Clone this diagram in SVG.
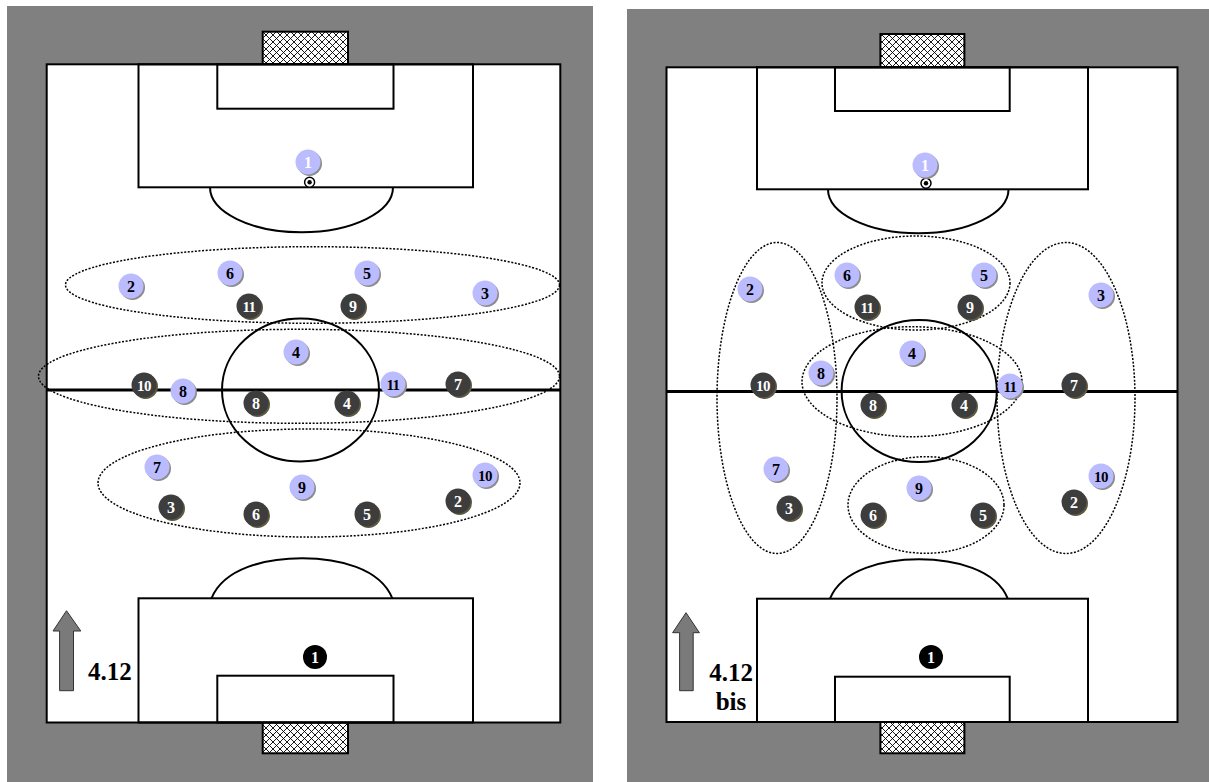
<svg xmlns="http://www.w3.org/2000/svg" width="1209" height="782" viewBox="0 0 1209 782">
<style>
.bg{fill:#808080}
.pitch{fill:#fff;stroke:#000;stroke-width:2}
.ln{fill:none;stroke:#000;stroke-width:2}
.half{stroke:#000;stroke-width:3}
.net{fill:url(#net);stroke:#000;stroke-width:2}
.zone{fill:none;stroke:#000;stroke-width:1.5;stroke-dasharray:2 1.6}
.bs{fill:#8c8c8c}
.b{fill:#bbbbff}
.ds{fill:#5e5a42}
.d{fill:#3d3d3d}
.k{fill:#000}
.num{font-family:"Liberation Serif","Times New Roman",serif;font-weight:bold;font-size:16px;text-anchor:middle}
.two{font-size:15px;letter-spacing:-0.6px}
.tb{fill:#000}
.tw{fill:#fff}
.arrow{fill:#7a7a7a;stroke:#333;stroke-width:1}
.lbl{font-family:"Liberation Serif","Times New Roman",serif;font-weight:bold;font-size:25px;fill:#000}
.ball{fill:#fff;stroke:#000;stroke-width:1.5}
</style>
<defs>
<pattern id="net" width="7" height="7" patternUnits="userSpaceOnUse">
<rect width="7" height="7" fill="#fff"/>
<path d="M0,0 L7,7 M7,0 L0,7" stroke="#000" stroke-width="0.9"/>
</pattern>
</defs>

<!-- LEFT PANEL -->
<g id="left-panel">
<rect class="bg" x="7" y="6" width="586" height="776"/>
<rect class="net" x="262.7" y="31.7" width="85.3" height="32.3"/>
<rect class="net" x="262.7" y="722" width="85.3" height="31.3"/>
<rect class="pitch" x="46.7" y="64.3" width="513.6" height="658.2"/>
<rect class="ln" x="138.5" y="64.3" width="334.5" height="123"/>
<rect class="ln" x="217.3" y="64.3" width="176.2" height="44.4"/>
<path class="ln" d="M210,187.3 A91.5,45 0 0,0 393,187.3"/>
<rect class="ln" x="138.5" y="598.3" width="334.5" height="124.2"/>
<rect class="ln" x="217.3" y="675.7" width="176.2" height="46.8"/>
<path class="ln" d="M211.5,598.3 C224,568 266,558.3 302,558.3 C338,558.3 380,568 392.3,598.3"/>
<line class="half" x1="46.7" y1="390" x2="560.3" y2="390"/>
<ellipse class="ln" cx="300.5" cy="390" rx="78.5" ry="71.5"/>
<g id="L-ball"><circle class="ball" cx="309.6" cy="182.3" r="5"/><circle class="k" cx="309.6" cy="182.3" r="2.2"/></g>
</g>

<g id="left-zones">
<ellipse class="zone" cx="312.5" cy="285" rx="247" ry="38.3"/>
<ellipse class="zone" cx="299" cy="376.3" rx="260.5" ry="47"/>
<ellipse class="zone" cx="309" cy="483" rx="211" ry="54"/>
</g>

<g id="L-b1"><circle class="bs" cx="309.5" cy="163.5" r="12.5"/><circle class="b" cx="308" cy="162" r="12.5"/><text class="num tw" x="308" y="167.5">1</text></g>
<g id="L-b2"><circle class="bs" cx="132.5" cy="287.5" r="12.5"/><circle class="b" cx="131" cy="286" r="12.5"/><text class="num tb" x="131" y="291.5">2</text></g>
<g id="L-b6"><circle class="bs" cx="231.5" cy="274.5" r="12.5"/><circle class="b" cx="230" cy="273" r="12.5"/><text class="num tb" x="230" y="278.5">6</text></g>
<g id="L-b5"><circle class="bs" cx="368.5" cy="274.5" r="12.5"/><circle class="b" cx="367" cy="273" r="12.5"/><text class="num tb" x="367" y="278.5">5</text></g>
<g id="L-b3"><circle class="bs" cx="486.5" cy="294.5" r="12.5"/><circle class="b" cx="485" cy="293" r="12.5"/><text class="num tb" x="485" y="298.5">3</text></g>
<g id="L-b4"><circle class="bs" cx="297.5" cy="353.5" r="12.5"/><circle class="b" cx="296" cy="352" r="12.5"/><text class="num tb" x="296" y="357.5">4</text></g>
<g id="L-b8"><circle class="bs" cx="184.5" cy="392.5" r="12.5"/><circle class="b" cx="183" cy="391" r="12.5"/><text class="num tb" x="183" y="396.5">8</text></g>
<g id="L-b11"><circle class="bs" cx="394.5" cy="385.5" r="12.5"/><circle class="b" cx="393" cy="384" r="12.5"/><text class="num two tb" x="393" y="389.5">11</text></g>
<g id="L-b7"><circle class="bs" cx="158.5" cy="468.5" r="12.5"/><circle class="b" cx="157" cy="467" r="12.5"/><text class="num tb" x="157" y="472.5">7</text></g>
<g id="L-b9"><circle class="bs" cx="303.5" cy="488.5" r="12.5"/><circle class="b" cx="302" cy="487" r="12.5"/><text class="num tb" x="302" y="492.5">9</text></g>
<g id="L-b10"><circle class="bs" cx="486.5" cy="476.5" r="12.5"/><circle class="b" cx="485" cy="475" r="12.5"/><text class="num two tb" x="485" y="480.5">10</text></g>

<g id="L-d11"><circle class="ds" cx="250.5" cy="307.5" r="12.5"/><circle class="d" cx="249" cy="306" r="12.5"/><text class="num two tw" x="249" y="311.5">11</text></g>
<g id="L-d9"><circle class="ds" cx="354.5" cy="307.5" r="12.5"/><circle class="d" cx="353" cy="306" r="12.5"/><text class="num tw" x="353" y="311.5">9</text></g>
<g id="L-d10"><circle class="ds" cx="145.5" cy="386.5" r="12.5"/><circle class="d" cx="144" cy="385" r="12.5"/><text class="num two tw" x="144" y="390.5">10</text></g>
<g id="L-d8"><circle class="ds" cx="257.5" cy="404.5" r="12.5"/><circle class="d" cx="256" cy="403" r="12.5"/><text class="num tw" x="256" y="408.5">8</text></g>
<g id="L-d4"><circle class="ds" cx="348.5" cy="404.5" r="12.5"/><circle class="d" cx="347" cy="403" r="12.5"/><text class="num tw" x="347" y="408.5">4</text></g>
<g id="L-d7"><circle class="ds" cx="459.5" cy="385.5" r="12.5"/><circle class="d" cx="458" cy="384" r="12.5"/><text class="num tw" x="458" y="389.5">7</text></g>
<g id="L-d3"><circle class="ds" cx="172.5" cy="508.5" r="12.5"/><circle class="d" cx="171" cy="507" r="12.5"/><text class="num tw" x="171" y="512.5">3</text></g>
<g id="L-d6"><circle class="ds" cx="257.5" cy="515.5" r="12.5"/><circle class="d" cx="256" cy="514" r="12.5"/><text class="num tw" x="256" y="519.5">6</text></g>
<g id="L-d5"><circle class="ds" cx="368.5" cy="515.5" r="12.5"/><circle class="d" cx="367" cy="514" r="12.5"/><text class="num tw" x="367" y="519.5">5</text></g>
<g id="L-d2"><circle class="ds" cx="459.5" cy="502.5" r="12.5"/><circle class="d" cx="458" cy="501" r="12.5"/><text class="num tw" x="458" y="506.5">2</text></g>
<g id="L-k1"><circle class="k" cx="315" cy="657" r="12"/><text class="num tw" x="315" y="662.5">1</text></g>

<g id="L-label">
<path class="arrow" d="M66.5,610.7 L80.8,631 L73.5,631 L73.5,690.7 L59.6,690.7 L59.6,631 L53,631 Z"/>
<text class="lbl" x="88" y="680">4.12</text>
</g>

<!-- RIGHT PANEL -->
<g id="right-panel">
<rect class="bg" x="627" y="9" width="582" height="773"/>
<rect class="net" x="880.4" y="34" width="84" height="33"/>
<rect class="net" x="880.4" y="722" width="84" height="31.3"/>
<rect class="pitch" x="666.5" y="67.3" width="511" height="654.7"/>
<rect class="ln" x="757" y="67.3" width="331" height="122"/>
<rect class="ln" x="835" y="67.3" width="174.7" height="43.7"/>
<path class="ln" d="M828,189.3 A90.2,44 0 0,0 1008.5,189.3"/>
<rect class="ln" x="757" y="598.7" width="331" height="123.3"/>
<rect class="ln" x="835" y="676.7" width="174.7" height="45.3"/>
<path class="ln" d="M830,598.7 C842,569 884,559.3 919,559.3 C954,559.3 996,569 1007.8,598.7"/>
<line class="half" x1="666.5" y1="391.5" x2="1177.5" y2="391.5"/>
<ellipse class="ln" cx="919.2" cy="391" rx="77.6" ry="71"/>
<g id="R-ball"><circle class="ball" cx="926" cy="183.3" r="5"/><circle class="k" cx="926" cy="183.3" r="2.2"/></g>
</g>

<g id="right-zones">
<ellipse class="zone" cx="777" cy="398" rx="60" ry="155.5"/>
<ellipse class="zone" cx="1066" cy="398" rx="69" ry="155.5"/>
<ellipse class="zone" cx="916" cy="283" rx="94" ry="47"/>
<ellipse class="zone" cx="912" cy="381.7" rx="110" ry="55"/>
<ellipse class="zone" cx="926" cy="505" rx="78" ry="48.3"/>
</g>

<g id="R-b1"><circle class="bs" cx="926.5" cy="166.5" r="12.5"/><circle class="b" cx="925" cy="165" r="12.5"/><text class="num tw" x="925" y="170.5">1</text></g>
<g id="R-b2"><circle class="bs" cx="751.5" cy="290.5" r="12.5"/><circle class="b" cx="750" cy="289" r="12.5"/><text class="num tb" x="750" y="294.5">2</text></g>
<g id="R-b6"><circle class="bs" cx="848.5" cy="276.5" r="12.5"/><circle class="b" cx="847" cy="275" r="12.5"/><text class="num tb" x="847" y="280.5">6</text></g>
<g id="R-b5"><circle class="bs" cx="985.5" cy="276.5" r="12.5"/><circle class="b" cx="984" cy="275" r="12.5"/><text class="num tb" x="984" y="280.5">5</text></g>
<g id="R-b3"><circle class="bs" cx="1102.5" cy="296.5" r="12.5"/><circle class="b" cx="1101" cy="295" r="12.5"/><text class="num tb" x="1101" y="300.5">3</text></g>
<g id="R-b4"><circle class="bs" cx="913.5" cy="354.5" r="12.5"/><circle class="b" cx="912" cy="353" r="12.5"/><text class="num tb" x="912" y="358.5">4</text></g>
<g id="R-b8"><circle class="bs" cx="822.5" cy="374.5" r="12.5"/><circle class="b" cx="821" cy="373" r="12.5"/><text class="num tb" x="821" y="378.5">8</text></g>
<g id="R-b11"><circle class="bs" cx="1011.5" cy="387.5" r="12.5"/><circle class="b" cx="1010" cy="386" r="12.5"/><text class="num two tb" x="1010" y="391.5">11</text></g>
<g id="R-b7"><circle class="bs" cx="777.5" cy="470.5" r="12.5"/><circle class="b" cx="776" cy="469" r="12.5"/><text class="num tb" x="776" y="474.5">7</text></g>
<g id="R-b9"><circle class="bs" cx="920.5" cy="489.5" r="12.5"/><circle class="b" cx="919" cy="488" r="12.5"/><text class="num tb" x="919" y="493.5">9</text></g>
<g id="R-b10"><circle class="bs" cx="1102.5" cy="477.5" r="12.5"/><circle class="b" cx="1101" cy="476" r="12.5"/><text class="num two tb" x="1101" y="481.5">10</text></g>

<g id="R-d11"><circle class="ds" cx="868.5" cy="308.5" r="12.5"/><circle class="d" cx="867" cy="307" r="12.5"/><text class="num two tw" x="867" y="312.5">11</text></g>
<g id="R-d9"><circle class="ds" cx="971.5" cy="308.5" r="12.5"/><circle class="d" cx="970" cy="307" r="12.5"/><text class="num tw" x="970" y="312.5">9</text></g>
<g id="R-d10"><circle class="ds" cx="764.5" cy="386.5" r="12.5"/><circle class="d" cx="763" cy="385" r="12.5"/><text class="num two tw" x="763" y="390.5">10</text></g>
<g id="R-d7"><circle class="ds" cx="1075.5" cy="386.5" r="12.5"/><circle class="d" cx="1074" cy="385" r="12.5"/><text class="num tw" x="1074" y="390.5">7</text></g>
<g id="R-d8"><circle class="ds" cx="874.5" cy="406.5" r="12.5"/><circle class="d" cx="873" cy="405" r="12.5"/><text class="num tw" x="873" y="410.5">8</text></g>
<g id="R-d4"><circle class="ds" cx="965.5" cy="406.5" r="12.5"/><circle class="d" cx="964" cy="405" r="12.5"/><text class="num tw" x="964" y="410.5">4</text></g>
<g id="R-d3"><circle class="ds" cx="790.5" cy="509.5" r="12.5"/><circle class="d" cx="789" cy="508" r="12.5"/><text class="num tw" x="789" y="513.5">3</text></g>
<g id="R-d6"><circle class="ds" cx="874.5" cy="516.5" r="12.5"/><circle class="d" cx="873" cy="515" r="12.5"/><text class="num tw" x="873" y="520.5">6</text></g>
<g id="R-d5"><circle class="ds" cx="984.5" cy="516.5" r="12.5"/><circle class="d" cx="983" cy="515" r="12.5"/><text class="num tw" x="983" y="520.5">5</text></g>
<g id="R-d2"><circle class="ds" cx="1075.5" cy="503.5" r="12.5"/><circle class="d" cx="1074" cy="502" r="12.5"/><text class="num tw" x="1074" y="507.5">2</text></g>
<g id="R-k1"><circle class="k" cx="931" cy="657" r="12"/><text class="num tw" x="931" y="662.5">1</text></g>

<g id="R-label">
<path class="arrow" d="M686,612.7 L699.4,632.7 L693.2,632.7 L693.2,690.7 L679.6,690.7 L679.6,632.7 L672.6,632.7 Z"/>
<text class="lbl" x="731" y="681" text-anchor="middle">4.12</text>
<text class="lbl" x="731" y="710" text-anchor="middle">bis</text>
</g>
</svg>
